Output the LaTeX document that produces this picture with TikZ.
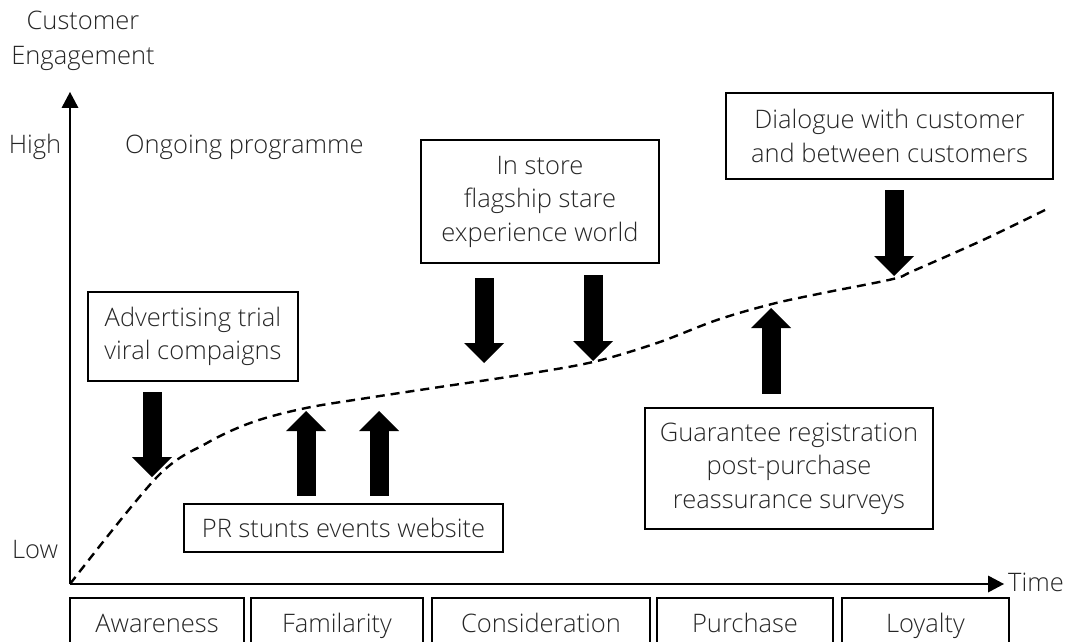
\documentclass[tikz,border=0pt]{standalone}
\usepackage{fontspec}
\setmainfont{Open Sans}[UprightFont={* Light}]
\usetikzlibrary{arrows.meta,calc}

\tikzset{
  txt/.style={font=\fontsize{25.5}{33.5}\selectfont, inner sep=0pt, align=center, text=black!85},
  framed/.style={draw, line width=2.4pt, inner sep=0pt},
  axisline/.style={line width=2.4pt, -{Triangle[width=17pt,length=16pt,line width=0pt]}},
  blockarrow/.style={line width=19pt, -{Triangle[width=40pt,length=20pt,line width=0pt]}},
  trend/.style={line width=2.4pt, dash pattern=on 9pt off 6pt},
}

\begin{document}
\begin{tikzpicture}[x=1pt,y=-1pt]
  \useasboundingbox (0,0) rectangle (1072,642);

  % axes
  \coordinate (origin) at (70,584);
  \coordinate (ytop) at (70,92);
  \coordinate (xend) at (1004,584);
  \draw[axisline] (origin) -- (ytop);
  \draw[axisline] (origin) -- (xend);

  % axis labels
  \node[txt, font=\fontsize{25.5}{34.5}\selectfont] (ylab) at (83,41) {Customer\\Engagement};
  \node[txt, anchor=west] (timelab) at (1008,582) {Time};
  \node[txt] (high) at (35,147) {High};
  \node[txt] (low) at (35,550) {Low};
  \node[txt, anchor=west] (ongoing) at (125,147) {Ongoing programme};

  % engagement trend
  \draw[trend] plot[smooth, tension=0.55] coordinates {(70,584) (157,477) (207,443) (253,422) (306,408) (367,398) (433,388) (520,375) (593,362) (657,343) (717,320) (772,304) (823,293) (893,279) (913,271) (983,240) (1045,210)};

  % tips of the block arrows
  \coordinate (t1) at (152,477);
  \coordinate (t2) at (306,411);
  \coordinate (t3) at (379,411);
  \coordinate (t4) at (484,363);
  \coordinate (t5) at (593,361);
  \coordinate (t6) at (771,308);
  \coordinate (t7) at (894,276);

  % activity boxes
  \node[framed, minimum width=210pt, minimum height=89pt] (adv) at (193,336.5) {};
  \node[txt] at (adv) {Advertising trial\\viral compaigns};
  \node[framed, minimum width=319pt, minimum height=48pt] (pr) at (343.5,528) {};
  \node[txt] at (pr) {PR stunts events website};
  \node[framed, minimum width=238pt, minimum height=123pt] (store) at (540,201.5) {};
  \node[txt] at (store) {In store\\flagship stare\\experience world};
  \node[framed, minimum width=327pt, minimum height=86pt] (dialog) at (889.5,136) {};
  \node[txt] at (dialog) {Dialogue with customer\\and between customers};
  \node[framed, minimum width=288pt, minimum height=121pt] (guar) at (789,468.5) {};
  \node[txt] at (guar) {Guarantee registration\\post-purchase\\reassurance surveys};

  % block arrows
  \draw[blockarrow] ([yshift=-10pt]adv.south -| t1) -- (t1);
  \draw[blockarrow] ([yshift=7pt]pr.north -| t2) -- (t2);
  \draw[blockarrow] ([yshift=7pt]pr.north -| t3) -- (t3);
  \draw[blockarrow] ([yshift=-14pt]store.south -| t4) -- (t4);
  \draw[blockarrow] ([yshift=-11pt]store.south -| t5) -- (t5);
  \draw[blockarrow] ([yshift=-10pt]dialog.south -| t7) -- (t7);
  \draw[blockarrow] ([yshift=13pt]guar.north -| t6) -- (t6);

  % stages along the time axis, labels on a common baseline
  \foreach \name/\l/\r/\lab in {aw/70/244/Awareness, fam/251/423/Familarity, con/432/650/Consideration, pur/657/833/Purchase, loy/842/1009/Loyalty}{
    \draw[line width=2.4pt] (\l,660) |- (\r,598) -- (\r,660);
    \node[txt, anchor=base] (\name) at ({(\l+\r)/2},632) {\lab};
  }
\end{tikzpicture}
\end{document}
